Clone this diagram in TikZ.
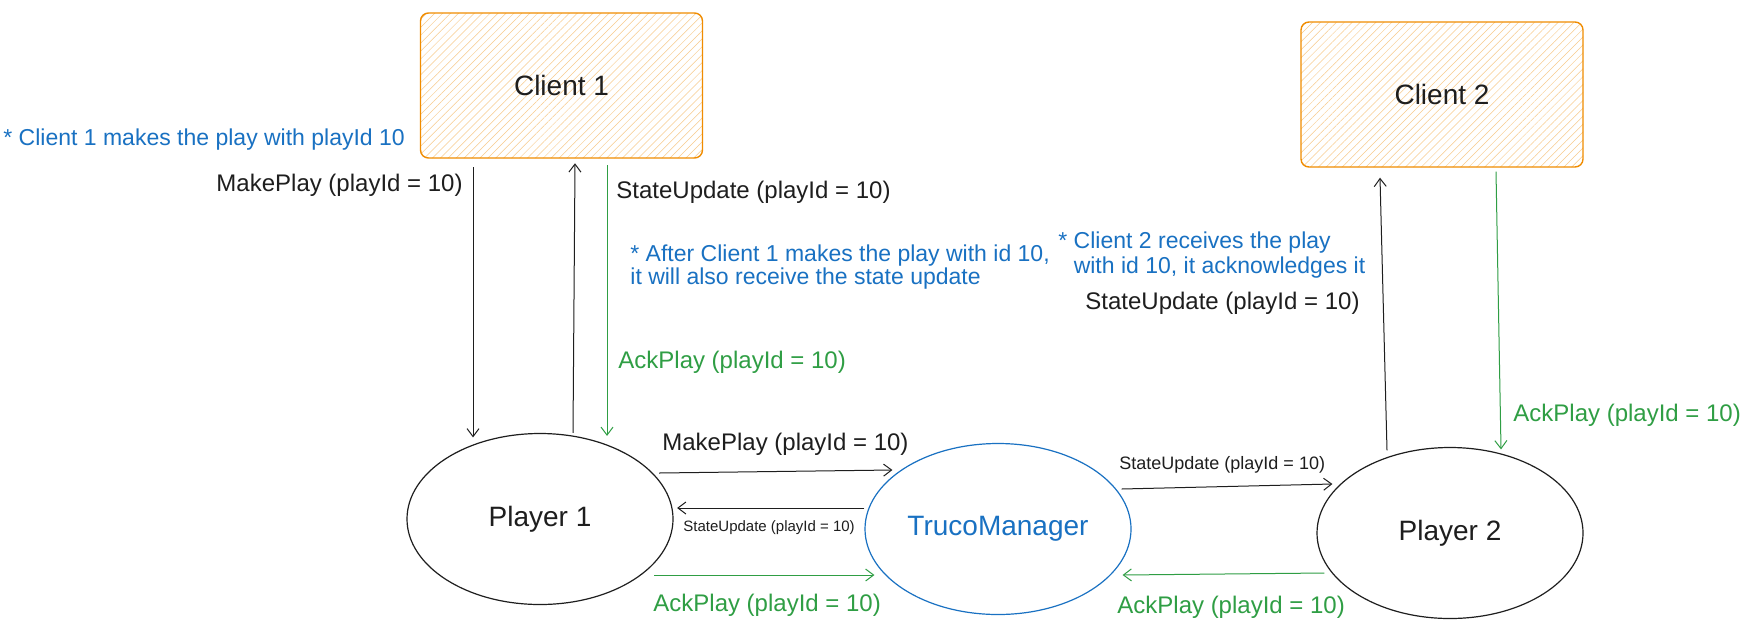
\documentclass[tikz,border=0pt]{standalone}
\usepackage{fontspec}
\setmainfont{Liberation Sans}
\usepackage{tikz}
\usetikzlibrary{arrows.meta,shapes.geometric,patterns.meta,calc}

\definecolor{xorange}{HTML}{F08C00}
\definecolor{xblue}{HTML}{1971C2}
\definecolor{xgreen}{HTML}{2F9E44}
\definecolor{xblack}{HTML}{1E1E1E}

\tikzset{
  client/.style={draw=xorange, line width=0.7pt, rounded corners=4pt,
    pattern={Lines[angle=45,distance=2.8pt,line width=0.25pt]}, pattern color=xorange!45,
    minimum width=141pt, minimum height=72.5pt, text=xblack,
    font=\fontsize{14}{16}\selectfont},
  player/.style={ellipse, draw=xblack, line width=0.6pt, inner sep=0pt,
    minimum width=133pt, minimum height=85.5pt, text=xblack,
    font=\fontsize{14}{16}\selectfont},
  msg/.style={-{Straight Barb[length=4pt,width=6pt]}, line width=0.5pt, xblack},
  ack/.style={msg, xgreen},
  lbl/.style={anchor=west, inner sep=0pt, text=xblack, font=\fontsize{12}{14}\selectfont},
  note/.style={anchor=north west, inner sep=0pt, align=left, text=xblue,
    font=\fontsize{11.5}{11.5}\selectfont},
}

\begin{document}
\begin{tikzpicture}[x=0.5pt,y=-0.5pt]
  % Canvas
  \fill[white] (0,0) rectangle (1749,638);
  \useasboundingbox (0,0) rectangle (1749,638);
  % Draw clients, players and the manager
  \node[client] (client1) at (561.5,85.5) {Client 1};
  \node[client] (client2) at (1442,94.5) {Client 2};
  \node[player] (player1) at (540,519) {Player 1};
  \node[player,draw=xblue,text=xblue] (truco) at (998,529) {TrucoManager};
  \node[player] (player2) at (1450,533) {Player 2};
  % Client 1 <-> Player 1
  \draw[msg] ($(client1.south)+(-88.5,9)$) -- ($(player1.north)+(-67,4.5)$);
  \draw[msg] ($(player1.north)+(33,0)$) -- ($(client1.south)+(13.5,5)$);
  \draw[ack] ($(client1.south)+(45.5,7)$) -- ($(player1.north)+(67,3)$);
  % Player 1 <-> TrucoManager
  \draw[msg] ($(player1.east)+(-14.5,-46)$) -- ($(truco.west)+(28,-59)$);
  \draw[msg] ($(truco.west)+(0,-21)$) -- ($(player1.east)+(3.5,-11)$);
  \draw[ack] ($(player1.east)+(-19.5,56)$) -- ($(truco.west)+(10,46)$);
  % TrucoManager <-> Player 2
  \draw[msg] ($(truco.east)+(-10,-40)$) -- ($(player2.west)+(16,-49)$);
  \draw[ack] ($(player2.west)+(8,40)$) -- ($(truco.east)+(-9,46)$);
  % Player 2 <-> Client 2
  \draw[msg] ($(player2.north)+(-63,3.5)$) -- ($(client2.south)+(-62,10)$);
  \draw[ack] ($(client2.south)+(54,4)$) -- ($(player2.north)+(51,2.5)$);
  % Labels and notes
  \node[note,anchor=west] (noteplay) at (3,140) {* Client 1 makes the play with playId 10};
  \node[lbl,anchor=east] (lblmake1) at (463,185) {MakePlay (playId = 10)};
  \node[lbl] (lblstate1) at (616,192) {StateUpdate (playId = 10)};
  \node[note] (noteafter) at (630,244.5) {* After Client 1 makes the play with id 10,\\it will also receive the state update};
  \node[lbl,text=xgreen] (lblack1) at (618,362) {AckPlay (playId = 10)};
  \node[lbl] (lblmake2) at (662,444) {MakePlay (playId = 10)};
  \node[lbl,font=\fontsize{7.5}{9}\selectfont] (lblstate2) at (683,528) {StateUpdate (playId = 10)};
  \node[lbl,text=xgreen] (lblack2) at (653,605) {AckPlay (playId = 10)};
  \node[lbl,font=\fontsize{9}{11}\selectfont] (lblstate3) at (1119,465) {StateUpdate (playId = 10)};
  \node[lbl,text=xgreen] (lblack3) at (1117,607) {AckPlay (playId = 10)};
  \node[note,font=\fontsize{11.5}{12.5}\selectfont] (notereceive) at (1058,231.5) {* Client 2 receives the play\\\hphantom{* }with id 10, it acknowledges it};
  \node[lbl] (lblstate4) at (1085,303) {StateUpdate (playId = 10)};
  \node[lbl,text=xgreen] (lblack4) at (1513,415) {AckPlay (playId = 10)};
\end{tikzpicture}
\end{document}
